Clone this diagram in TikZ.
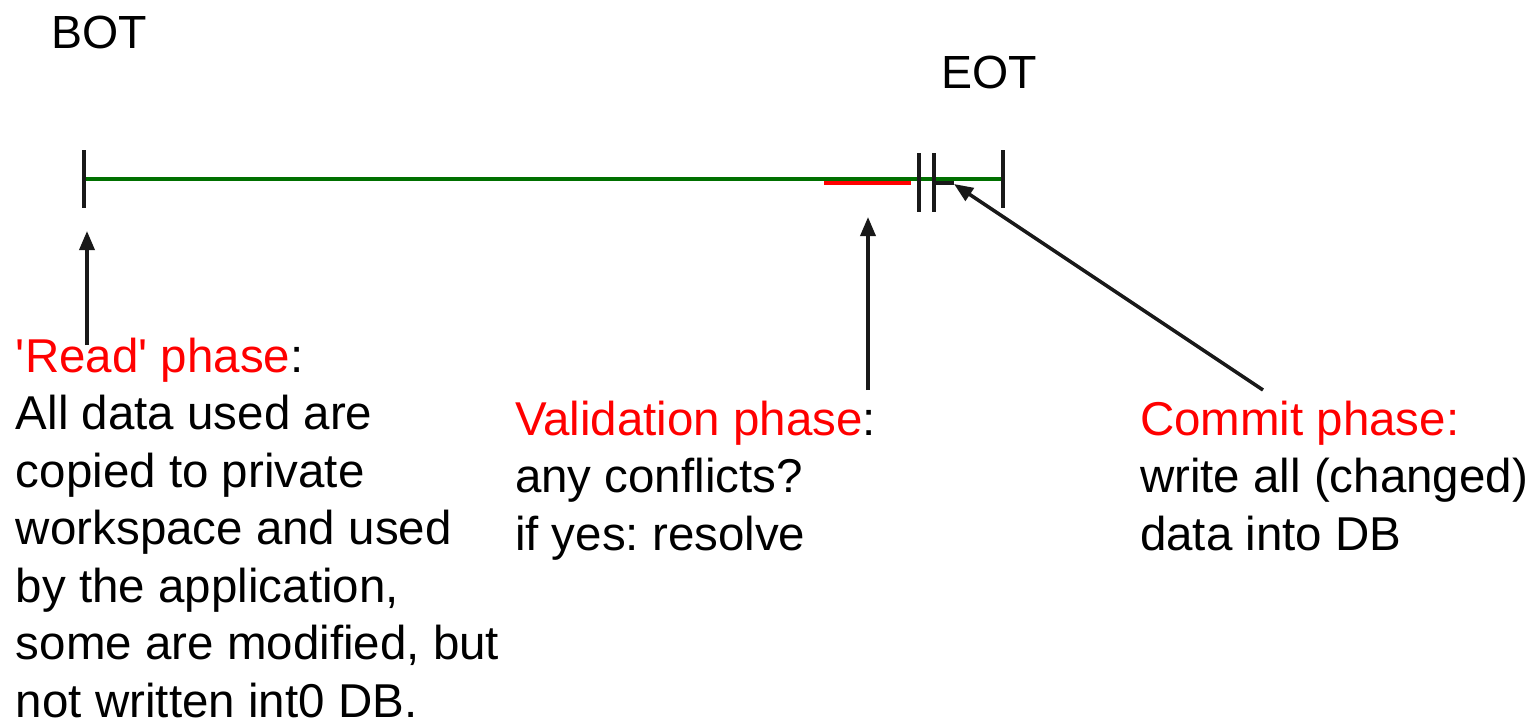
\documentclass[tikz,border=0pt]{standalone}
\usepackage{fontspec}
\setmainfont{Liberation Sans}[Ligatures=TeXOff]
\usetikzlibrary{arrows.meta}
\definecolor{lifegreen}{RGB}{0,112,0}
\definecolor{phasered}{RGB}{255,0,0}
\frenchspacing
\begin{document}
\begin{tikzpicture}[x=1pt,y=-1pt,
  txt/.style={inner sep=0pt,outer sep=0pt,align=left,anchor=base west,
    font=\fontsize{47.5}{57.5}\selectfont},
  lbl/.style={inner sep=0pt,outer sep=0pt,anchor=base west,
    font=\fontsize{46.5}{57.5}\selectfont},
  tick/.style={line width=3.5pt,black!90},
  pointer/.style={line width=3.5pt,black!90,-{Triangle[length=19pt,width=15pt]}},
]
\useasboundingbox (0,0) rectangle (1534,721);

% time line of the transaction
\coordinate (bot) at (84,179);
\coordinate (eot) at (1003,179);
\draw[line width=3.5pt,lifegreen] (bot) -- (eot);
\draw[line width=4.5pt,phasered] (824,183) coordinate (vs) -- (911,183) coordinate (ve);
\draw[tick] (84,150) -- (84,208);
\draw[tick] (919,153) -- (919,212);
\draw[tick] (934,153) -- (934,212);
\draw[tick] (1003,150) -- (1003,208);
\draw[line width=3.5pt,black!90] (934,183) -- (954,183);

% labels above the line
\node[lbl] (botl) at (51,48) {BOT};
\node[lbl] (eotl) at (941,88) {EOT};

% phase descriptions (anchored at the baseline of their last line)
\node[txt] (read) at (16,717) {\textcolor{phasered}{'Read' phase}:\\
All data used are\\
copied to private\\
workspace and used\\
by the application,\\
some are modified, but\\
not written int0 DB.};
\node[txt] (valid) at (515,550) {\textcolor{phasered}{Validation phase}:\\
any conflicts?\\
if yes: resolve};
\node[txt] (commit) at (1140,550) {\textcolor{phasered}{Commit phase:}\\
write all (changed)\\
data into DB};

% pointers from the descriptions to the line
\coordinate (rtail) at (87,345);
\coordinate (rhead) at (87,231);
\coordinate (vtail) at (868,390);
\coordinate (vhead) at (868,217);
\coordinate (ctail) at (1263,390);
\coordinate (chead) at (954,184);
\draw[pointer] (rtail) -- (rhead);
\draw[pointer] (vtail) -- (vhead);
\draw[pointer] (ctail) -- (chead);
\end{tikzpicture}
\end{document}
